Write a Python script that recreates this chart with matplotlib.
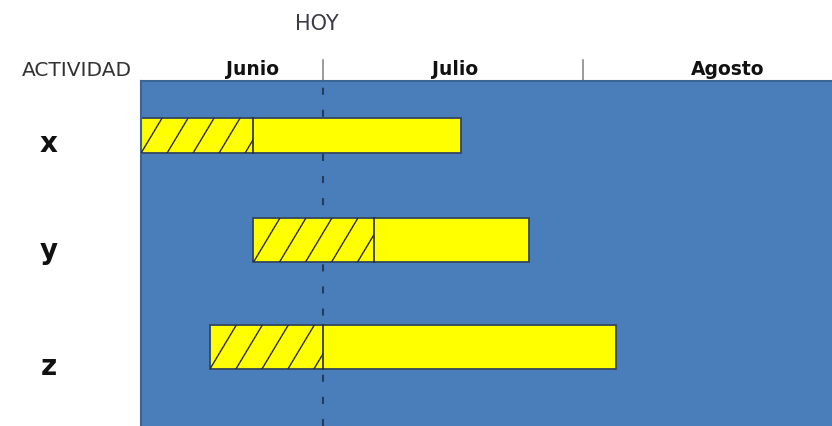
import matplotlib.pyplot as plt
from matplotlib.patches import Rectangle
from matplotlib.transforms import blended_transform_factory

# days counted from 1 June
actividades = ['x', 'y', 'z']
inicio = [8.3, 21.7, 16.5]
avance = [21.7, 36.1, 30.0]   # end of the hatched (done) part
fin = [46.5, 54.6, 64.9]
alto = [0.33, 0.41, 0.41]

meses = ['Junio', 'Julio', 'Agosto']
mes_inicio = [0, 30, 61]
mes_label_x = [21.6, 45.8, 78.3]
hoy = 30

fig = plt.figure(figsize=(8.32, 4.26), dpi=100)
ax = fig.add_axes([141 / 832, 0, 1 - 141 / 832, 345 / 426])
ax.set_facecolor('#4a7ebb')
ax.set_xlim(8.3, 90.7)
ax.set_ylim(2.715, -0.51)
ax.set_xticks([])
ax.set_yticks([])
for s in ['right', 'bottom']:
    ax.spines[s].set_visible(False)
for s in ['left', 'top']:
    ax.spines[s].set_color('#3b6594')
    ax.spines[s].set_linewidth(1.5)

ax.axvline(hoy, color='#263a5a', lw=1.5, linestyle=(0, (3.4, 7.2)), zorder=1)

lean = 7.65      # days of horizontal shift per y unit for hatch lines
paso = 3.1       # days between hatch lines
label_shift = [0.08, 0.08, 0.16]
trans = blended_transform_factory(fig.transFigure, ax.transData)
for i, a in enumerate(actividades):
    h = alto[i]
    y0 = i - h / 2 - (0.02 if i else 0)
    ax.add_patch(Rectangle((inicio[i], y0), fin[i] - inicio[i], h,
                           facecolor='#ffff00', edgecolor='#34465e', lw=1.3, zorder=2))
    clip = Rectangle((inicio[i], y0), avance[i] - inicio[i], h,
                     facecolor='none', edgecolor='none')
    ax.add_patch(clip)
    xs = inicio[i]
    while xs < avance[i]:
        ln, = ax.plot([xs, xs + lean * h], [y0 + h, y0],
                      color='#2a2a2a', lw=1.0, zorder=3)
        ln.set_clip_path(clip)
        xs += paso
    ax.plot([avance[i], avance[i]], [y0, y0 + h], color='#2a2a2a', lw=1.2, zorder=3)

    ax.text(49 / 832, i + label_shift[i], a, transform=trans, ha='center', va='center',
            fontsize=20, fontweight='bold', color='#111111')

tb = blended_transform_factory(ax.transData, ax.transAxes)
for m in mes_inicio[1:]:
    ax.plot([m, m], [1.0, 1.061], transform=tb, color='#8a8a8a', lw=1.2, clip_on=False)
for m, xl in zip(meses, mes_label_x):
    ax.text(xl, 1.032, m, transform=tb, ha='center', va='center',
            fontsize=13.5, fontweight='bold', color='#111111')

ax.text(hoy - 0.7, 1.165, 'HOY', transform=tb, ha='center', va='center',
        fontsize=15, color='#3a3a48')
fig.text(77 / 832, (426 - 70) / 426, 'ACTIVIDAD', ha='center', va='center',
         fontsize=14.5, color='#333333')

fig.savefig('out.png', dpi=100)
